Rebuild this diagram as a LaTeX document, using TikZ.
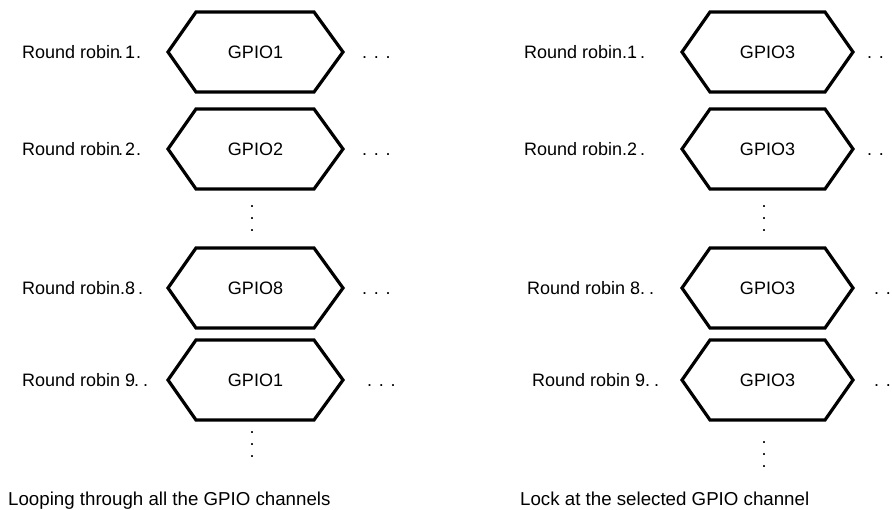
\documentclass[tikz,border=0pt]{standalone}
\usepackage{fontspec}
\setmainfont{Liberation Sans}
\usepackage{tikz}
\usetikzlibrary{positioning,calc}
\newcommand{\rrdots}{.\hspace{4pt}.\hspace{4pt}.}

\tikzset{
  hexa/.style={line width=3.2pt, line join=miter},
  txt/.style={font=\fontsize{18}{22}\selectfont, inner sep=0pt},
  vdot/.style={txt, align=center, font=\fontsize{18}{12}\selectfont}
}

\begin{document}
\begin{tikzpicture}[x=1pt,y=-1pt]
        \useasboundingbox (0,0) rectangle (892,510);
        % Left column: looping through all channels
        \foreach \y/\n/\g/\d/\e [count=\i] in {52/1/1/96/362, 149/2/2/96/362, 288/8/8/98/362, 380/9/1/103/367} {
            \draw[hexa] (168,\y) -- ++(28,-40) -- ++(118,0) -- ++(29,40) -- ++(-29,40) -- ++(-118,0) -- cycle;
            \node[txt] (gl\i) at (255.5,\y) {GPIO\g};
            \node[txt, anchor=base west] (rl\i) at (22,\y+6.5) {Round robin \n};
            \node[txt, anchor=base west] (rld\i) at (22+\d,\y+6.5) {\rrdots};
            \node[txt, anchor=base west] (gld\i) at (\e,\y+6.5) {. . .};
        }
        % Right column: locked on one channel
        \foreach \y/\n/\s/\d/\e [count=\i] in {52/1/524/98/867, 149/2/524/98/867, 288/8/527/104/874, 380/9/532/104/874} {
            \draw[hexa] (682,\y) -- ++(28,-40) -- ++(115,0) -- ++(28,40) -- ++(-28,40) -- ++(-115,0) -- cycle;
            \node[txt] (gr\i) at (767.5,\y) {GPIO3};
            \node[txt, anchor=base west] (rr\i) at (\s,\y+6.5) {Round robin \n};
            \node[txt, anchor=base west] (rrd\i) at (\s+\d,\y+6.5) {\rrdots};
            \node[txt, anchor=base west] (grd\i) at (\e,\y+6.5) {. . .};
        }
        % Vertical dots
        \node[vdot] (vl1) at (252,219) {.\\.\\.};
        \node[vdot] (vl2) at (252,445) {.\\.\\.};
        \node[vdot] (vr1) at (764,219) {.\\.\\.};
        \node[vdot] (vr2) at (764,455) {.\\.\\.};
        % Captions
        \node[txt, font=\fontsize{18.7}{22}\selectfont, anchor=base west] (capl) at (8,505) {Looping through all the GPIO channels};
        \node[txt, font=\fontsize{18.7}{22}\selectfont, anchor=base west] (capr) at (520,505) {Lock at the selected GPIO channel};
\end{tikzpicture}
\end{document}
